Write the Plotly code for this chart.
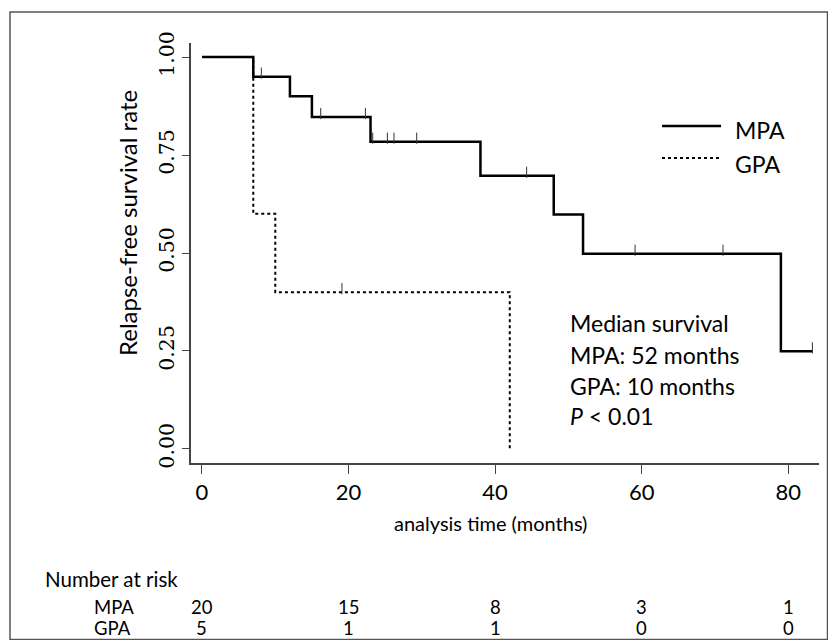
import plotly.graph_objects as go

# ---- data ----
mpa_times = [0, 7, 12, 15, 23, 38, 48, 52, 79, 83.3]
mpa_surv = [1.0, 0.95, 0.90, 0.847, 0.784, 0.697, 0.598, 0.498, 0.249, 0.249]
mpa_cens_t = [8.1, 16.2, 22.3, 23.3, 25.3, 26.2, 29.3, 44.3, 59.1, 71.1, 83.3]
mpa_cens_s = [0.95, 0.847, 0.847, 0.784, 0.784, 0.784, 0.784, 0.697, 0.498, 0.498, 0.249]

gpa_times = [0, 7, 10, 42]
gpa_surv = [1.0, 0.6, 0.4, 0.0]
gpa_cens_t = [19.1]
gpa_cens_s = [0.4]

risk_times = [0, 20, 40, 60, 80]
risk_mpa = [20, 15, 8, 3, 1]
risk_gpa = [5, 1, 1, 0, 0]

x_ticks = [0, 20, 40, 60, 80]
y_ticks = [0, 0.25, 0.5, 0.75, 1.0]
y_ticklabels = ["0.00", "0.25", "0.50", "0.75", "1.00"]

SANS = "Lato"
SERIF = "DejaVu Serif"

fig = go.Figure()

fig.add_trace(go.Scatter(x=mpa_times, y=mpa_surv, mode="lines", line_shape="hv",
                         line=dict(color="black", width=2.5), name="MPA"))
fig.add_trace(go.Scatter(x=gpa_times, y=gpa_surv, mode="lines", line_shape="hv",
                         line=dict(color="black", width=2, dash="dot"), name="GPA"))

# censor ticks (drawn just above the curve)
off = 0.009
fig.add_trace(go.Scatter(x=mpa_cens_t, y=[s + off for s in mpa_cens_s], mode="markers",
                         marker=dict(symbol="line-ns", size=8, line=dict(color="#333", width=1)),
                         showlegend=False, hoverinfo="skip", cliponaxis=False))
fig.add_trace(go.Scatter(x=gpa_cens_t, y=[s + off for s in gpa_cens_s], mode="markers",
                         marker=dict(symbol="line-ns", size=8, line=dict(color="#333", width=1)),
                         showlegend=False, hoverinfo="skip", cliponaxis=False))

L, R, T, B = 191, 9, 43, 177
W, H = 828, 640
pw = W - L - R
ph = H - T - B

def px(xp):
    return (xp - L) / pw

def py(yp):
    return (H - B - yp) / ph

fig.update_layout(
    width=W, height=H,
    margin=dict(l=L, r=R, t=T, b=B, autoexpand=False),
    paper_bgcolor="white", plot_bgcolor="white",
    showlegend=False,
    xaxis=dict(range=[-1.5, 84.2], tickvals=x_ticks, ticktext=[str(v) for v in x_ticks],
               showline=True, linecolor="#444", linewidth=1.5, ticks="outside",
               ticklen=9, tickcolor="#444", tickwidth=1.2, showgrid=False, zeroline=False,
               tickfont=dict(family=SANS, size=22, color="black")),
    yaxis=dict(range=[-0.036, 1.036], tickvals=y_ticks, ticktext=y_ticklabels,
               tickangle=-90,
               showline=True, linecolor="#444", linewidth=1.5, ticks="outside",
               ticklen=7, tickcolor="#444", tickwidth=1.2, showgrid=False, zeroline=False,
               tickfont=dict(family=SERIF, size=20.5, color="black")),
)

def font(sz):
    return dict(family=SANS, size=sz, color="black")

ann = []
ann.append(dict(text="Relapse-free survival rate", x=px(127), y=py(223), xref="paper", yref="paper",
                xanchor="center", yanchor="middle", textangle=-90, showarrow=False, font=font(24)))
ann.append(dict(text="analysis time (months)", x=px(490), y=py(523), xref="paper", yref="paper",
                xanchor="center", yanchor="middle", showarrow=False, font=font(20)))
info = ["Median survival", "MPA: 52 months", "GPA: 10 months", "<i>P</i> < 0.01"]
info_y = [323, 355, 386, 416]
for t, yy in zip(info, info_y):
    ann.append(dict(text=t, x=px(568), y=py(yy), xref="paper", yref="paper", xanchor="left",
                    yanchor="middle", showarrow=False, font=font(23)))
ann.append(dict(text="Number at risk", x=px(43), y=py(579), xref="paper", yref="paper", xanchor="left",
                yanchor="middle", showarrow=False, font=font(20.5)))
for lab, vals, yy in (("MPA", risk_mpa, 607), ("GPA", risk_gpa, 628)):
    ann.append(dict(text=lab, x=px(92), y=py(yy), xref="paper", yref="paper", xanchor="left",
                    yanchor="middle", showarrow=False, font=font(18.5)))
    for t, v in zip(risk_times, vals):
        ann.append(dict(text=str(v), x=t, y=py(yy), xref="x", yref="paper", xanchor="center",
                        yanchor="middle", showarrow=False, font=font(18.5)))

# manual legend
legend_items = [("MPA", 126, 130, dict(color="black", width=2.5)),
                ("GPA", 158, 164, dict(color="black", width=2, dash="dot"))]
for lab, ly, ty, lstyle in legend_items:
    fig.add_shape(type="line", xref="paper", yref="paper", x0=px(662), x1=px(721), y0=py(ly), y1=py(ly),
                  line=lstyle)
    ann.append(dict(text=lab, x=px(733), y=py(ty), xref="paper", yref="paper", xanchor="left",
                    yanchor="middle", showarrow=False, font=font(23)))
fig.update_layout(annotations=ann)

# outer frame
fig.add_shape(type="rect", xref="paper", yref="paper", x0=px(10), x1=px(827.5), y0=py(639.5), y1=py(12),
              line=dict(color="#555", width=1.5), layer="below")

fig.write_html("out.html", config={"displayModeBar": False},
               post_script="document.body.style.margin='0';document.body.style.overflow='hidden';")
